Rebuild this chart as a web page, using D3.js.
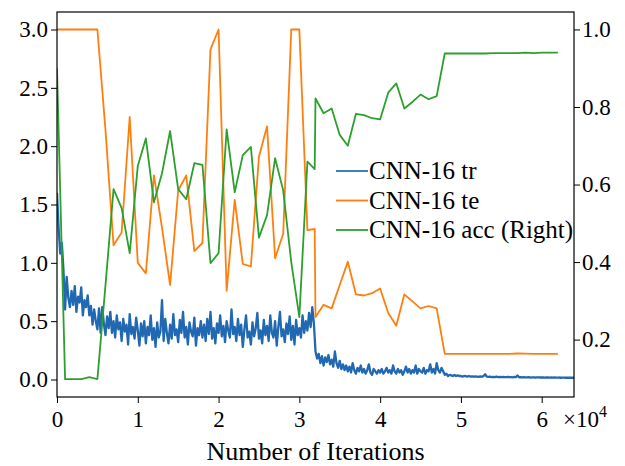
<!DOCTYPE html>
<html>
<head>
<meta charset="utf-8">
<script src="https://cdn.jsdelivr.net/npm/d3@7/dist/d3.min.js"></script>
<style>
  body { margin: 0; background: #fff; }
</style>
</head>
<body>
<svg id="chart" width="625" height="466"></svg>
<script>
// training loss, logged every 200 iterations (0 .. 64000)
const trIter = d3.range(0, 64001, 200);
const trLoss = [
  1.60, 1.30, 1.08, 1.17, 0.94, 0.60, 0.88, 0.70, 0.62, 0.76,
  0.64, 0.80, 0.58, 0.71, 0.66, 0.79, 0.55, 0.68, 0.62, 0.72,
  0.55, 0.63, 0.47, 0.60, 0.50, 0.43, 0.61, 0.40, 0.62, 0.48,
  0.38, 0.54, 0.44, 0.58, 0.40, 0.50, 0.36, 0.55, 0.43, 0.49,
  0.33, 0.52, 0.41, 0.47, 0.30, 0.56, 0.39, 0.45, 0.35, 0.53,
  0.42, 0.29, 0.48, 0.37, 0.50, 0.31, 0.45, 0.38, 0.55, 0.34,
  0.44, 0.28, 0.49, 0.36, 0.41, 0.68, 0.33, 0.52, 0.40, 0.31,
  0.47, 0.35, 0.56, 0.38, 0.43, 0.32, 0.51, 0.40, 0.58, 0.36,
  0.45, 0.30, 0.49, 0.41, 0.37, 0.53, 0.29, 0.44, 0.38, 0.50,
  0.36, 0.47, 0.33, 0.52, 0.39, 0.58, 0.35, 0.44, 0.31, 0.48,
  0.40, 0.55, 0.37, 0.46, 0.32, 0.50, 0.42, 0.36, 0.60, 0.39,
  0.45, 0.33, 0.52, 0.38, 0.47, 0.28, 0.43, 0.55, 0.36, 0.41,
  0.30, 0.49, 0.37, 0.44, 0.57, 0.35, 0.42, 0.31, 0.51, 0.38,
  0.46, 0.33, 0.55, 0.40, 0.36, 0.50, 0.29, 0.45, 0.58, 0.37,
  0.43, 0.32, 0.48, 0.39, 0.54, 0.34, 0.46, 0.30, 0.51, 0.38,
  0.44, 0.36, 0.55, 0.40, 0.50, 0.42, 0.57, 0.45, 0.62, 0.48,
  0.24, 0.18, 0.22, 0.14, 0.20, 0.12, 0.19, 0.15, 0.21, 0.13,
  0.17, 0.11, 0.24, 0.14, 0.10, 0.16, 0.09, 0.13, 0.08, 0.12,
  0.07, 0.11, 0.06, 0.14, 0.08, 0.05, 0.10, 0.07, 0.12, 0.06,
  0.09, 0.05, 0.08, 0.13, 0.06, 0.04, 0.09, 0.07, 0.05, 0.08,
  0.06, 0.09, 0.05, 0.07, 0.10, 0.06, 0.08, 0.05, 0.12, 0.07,
  0.05, 0.09, 0.06, 0.08, 0.04, 0.07, 0.11, 0.06, 0.09, 0.05,
  0.08, 0.06, 0.12, 0.05, 0.09, 0.07, 0.06, 0.10, 0.05, 0.08,
  0.07, 0.13, 0.06, 0.09, 0.05, 0.14, 0.08, 0.06, 0.10, 0.07,
  0.04, 0.05, 0.03, 0.04, 0.035, 0.03, 0.04, 0.03, 0.035, 0.03,
  0.03, 0.025, 0.03, 0.028, 0.025, 0.03, 0.025, 0.027, 0.024, 0.026,
  0.025, 0.022, 0.026, 0.023, 0.03, 0.045, 0.024, 0.022, 0.025, 0.021,
  0.023, 0.02, 0.024, 0.021, 0.022, 0.02, 0.023, 0.021, 0.02, 0.022,
  0.02, 0.021, 0.019, 0.022, 0.02, 0.035, 0.019, 0.02, 0.018, 0.02,
  0.019, 0.018, 0.02, 0.017, 0.019, 0.018, 0.017, 0.019, 0.018, 0.017,
  0.018, 0.017, 0.016, 0.018, 0.017, 0.016, 0.017, 0.016, 0.018, 0.016,
  0.016, 0.017, 0.015, 0.016, 0.016, 0.015, 0.016, 0.015, 0.016, 0.015,
  0.015
];

// test loss and accuracy, evaluated every 1000 iterations (extra point at 31900)
const evalIter = d3.range(0, 32000, 1000).concat([31900], d3.range(32000, 63000, 1000));
const teLoss = [
  3.0, 3.0, 3.0, 3.0, 3.0, 3.0, 2.14, 1.15, 1.26, 2.25,
  1.0, 0.91, 1.75, 1.30, 0.81, 1.62, 1.75, 1.10, 1.17, 2.83,
  3.0, 0.76, 1.54, 0.99, 0.97, 1.91, 2.17, 1.04, 1.25, 3.0,
  3.0, 1.28, 1.29,
  0.535, 0.64, 0.61, 0.81, 1.01, 0.73, 0.72, 0.74, 0.78, 0.57,
  0.46, 0.73, 0.67, 0.61, 0.63, 0.61, 0.22, 0.22, 0.22, 0.22,
  0.22, 0.22, 0.22, 0.22, 0.22, 0.223, 0.222, 0.22, 0.22, 0.22, 0.22
];
const accVal = [
  0.90, 0.098, 0.098, 0.098, 0.103, 0.098, 0.34, 0.588, 0.539, 0.423,
  0.648, 0.719, 0.554, 0.629, 0.738, 0.588, 0.562, 0.655, 0.651, 0.397,
  0.423, 0.742, 0.580, 0.676, 0.697, 0.463, 0.521, 0.668, 0.585, 0.40,
  0.258, 0.659, 0.640,
  0.822, 0.784, 0.796, 0.728, 0.700, 0.782, 0.779, 0.771, 0.768, 0.837,
  0.861, 0.796, 0.813, 0.832, 0.820, 0.828, 0.938, 0.938, 0.938, 0.938,
  0.938, 0.938, 0.939, 0.939, 0.939, 0.939, 0.940, 0.939, 0.940, 0.940, 0.940
];

const seriesNames = ['CNN-16 tr', 'CNN-16 te', 'CNN-16 acc (Right)'];
const colors = ['#1f77b4', '#ff7f0e', '#2ca02c'];
const xTicks = [0, 10000, 20000, 30000, 40000, 50000, 60000];
const yLeftTicks = [0, 0.5, 1.0, 1.5, 2.0, 2.5, 3.0];
const yRightTicks = [0.2, 0.4, 0.6, 0.8, 1.0];

const FONT = 'Liberation Serif';
const margin = { left: 57, right: 51, top: 12, bottom: 69 };
const width = 625, height = 466;
const svg = d3.select('#chart');

const x = d3.scaleLinear().domain([0, 64000]).range([margin.left, width - margin.right]);
const yL = d3.scaleLinear().domain([-0.15, 3.15]).range([height - margin.bottom, margin.top]);
const yR = d3.scaleLinear().domain([0.052, 1.045]).range([height - margin.bottom, margin.top]);

svg.append('defs').append('clipPath').attr('id', 'plot-clip')
  .append('rect')
  .attr('x', margin.left).attr('y', margin.top)
  .attr('width', x.range()[1] - margin.left)
  .attr('height', height - margin.bottom - margin.top);

const plot = svg.append('g').attr('clip-path', 'url(#plot-clip)');

const lineL = d3.line().x(d => x(d[0])).y(d => yL(d[1]));
const lineR = d3.line().x(d => x(d[0])).y(d => yR(d[1]));

// the training curve is dense in the original, so it gets a heavier stroke
plot.append('path')
  .datum(d3.zip(trIter, trLoss))
  .attr('d', lineL)
  .attr('fill', 'none').attr('stroke', '#2068b2').attr('stroke-width', 2.3)
  .attr('stroke-linejoin', 'round');

plot.append('path')
  .datum(d3.zip(evalIter, teLoss))
  .attr('d', lineL)
  .attr('fill', 'none').attr('stroke', colors[1]).attr('stroke-width', 1.8)
  .attr('stroke-linejoin', 'round');

plot.append('path')
  .datum(d3.zip(evalIter, accVal))
  .attr('d', lineR)
  .attr('fill', 'none').attr('stroke', colors[2]).attr('stroke-width', 1.8)
  .attr('stroke-linejoin', 'round');

// axes
const styleAxis = g => {
  g.select('.domain').remove();
  g.selectAll('.tick line').attr('stroke', '#000').attr('stroke-width', 1);
  g.selectAll('.tick text')
    .attr('fill', '#000')
    .attr('font-family', FONT)
    .attr('font-size', 23);
};

svg.append('g')
  .attr('transform', `translate(${margin.left},0)`)
  .call(d3.axisLeft(yL).tickValues(yLeftTicks).tickFormat(d3.format('.1f')).tickSize(6).tickPadding(3))
  .call(styleAxis);

svg.append('g')
  .attr('transform', `translate(${x.range()[1]},0)`)
  .call(d3.axisRight(yR).tickValues(yRightTicks).tickFormat(d3.format('.1f')).tickSize(6).tickPadding(2))
  .call(styleAxis);

svg.append('g')
  .attr('transform', `translate(0,${height - margin.bottom})`)
  .call(d3.axisBottom(x).tickValues(xTicks).tickFormat(d => d / 10000).tickSize(6).tickPadding(8))
  .call(styleAxis);

// frame
svg.append('rect')
  .attr('x', margin.left).attr('y', margin.top)
  .attr('width', x.range()[1] - margin.left)
  .attr('height', height - margin.bottom - margin.top)
  .attr('fill', 'none').attr('stroke', '#000').attr('stroke-width', 1.2);

// offset text x10^4
const offset = svg.append('text')
  .attr('x', 563).attr('y', 426.5)
  .attr('font-family', FONT).attr('font-size', 23);
offset.append('tspan').text('×10');
offset.append('tspan').attr('dy', -10).attr('font-size', 16).text('4');

svg.append('text')
  .attr('x', (margin.left + x.range()[1]) / 2)
  .attr('y', 460)
  .attr('text-anchor', 'middle')
  .attr('font-family', FONT).attr('font-size', 26)
  .text('Number of Iterations');

// legend
const legend = svg.append('g').attr('transform', 'translate(336,171)');
seriesNames.forEach((name, i) => {
  const row = legend.append('g').attr('transform', `translate(0,${i * 29.5})`);
  row.append('line')
    .attr('x1', 0).attr('x2', 32).attr('y1', 0).attr('y2', 0)
    .attr('stroke', colors[i]).attr('stroke-width', 1.8);
  row.append('text')
    .attr('x', 33).attr('y', 8)
    .attr('font-family', FONT).attr('font-size', 25)
    .text(name);
});
</script>
</body>
</html>
